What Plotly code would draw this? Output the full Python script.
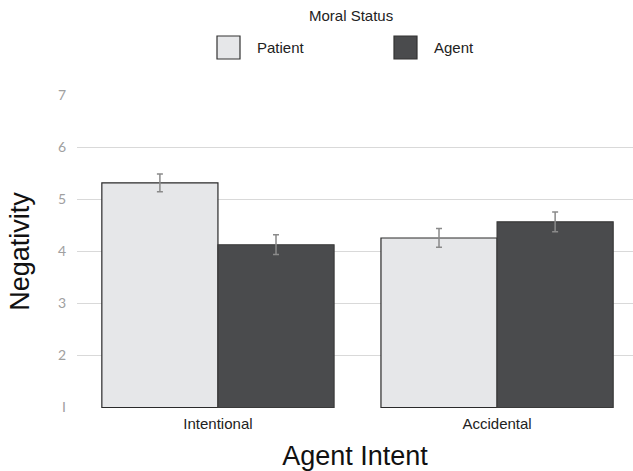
import plotly.graph_objects as go

categories = ["Intentional", "Accidental"]
series_names = ["Patient", "Agent"]
patient_means = [5.32, 4.26]
agent_means = [4.13, 4.57]
patient_err = [0.17, 0.18]
agent_err = [0.19, 0.19]
y_ticks = [1, 2, 3, 4, 5, 6, 7]
y_tick_labels = ["I", "2", "3", "4", "5", "6", "7"]
legend_title = "Moral Status"
baseline = 1

fills = ["#e6e7e9", "#4a4b4d"]
outlines = ["#2a2a2a", "#3a3a3a"]

W, H = 633, 471
L, R, T, B = 77, 0, 95, 63
pw, ph = W - L - R, H - T - B


def px_x(p):
    return (p - L) / pw


def px_y(p):
    return (H - B - p) / ph


fig = go.Figure()
for name, means, errs, fc, lc in zip(series_names, [patient_means, agent_means],
                                     [patient_err, agent_err], fills, outlines):
    fig.add_trace(go.Bar(
        name=name, x=categories, y=[v - baseline for v in means], base=baseline,
        marker=dict(color=fc, line=dict(color=lc, width=1.2)),
        error_y=dict(type="data", array=errs, color="#8a8a8a", thickness=1.5, width=3),
        showlegend=False,
    ))

# manual legend (large swatches as in the reference)
box_left = [217, 394]
text_left = [255, 432]
for name, fc, bx, tx in zip(series_names, fills, box_left, text_left):
    fig.add_shape(type="rect", xref="paper", yref="paper",
                  x0=px_x(bx), x1=px_x(bx + 23), y0=px_y(59), y1=px_y(36),
                  fillcolor=fc, line=dict(color="#333333", width=1.2))
    fig.add_annotation(text=name, xref="paper", yref="paper", x=px_x(tx), y=px_y(48),
                       xanchor="left", yanchor="middle", showarrow=False,
                       font=dict(size=15, color="#222"))
fig.add_annotation(text=legend_title, xref="paper", yref="paper", x=px_x(351), y=px_y(15),
                   xanchor="center", yanchor="middle", showarrow=False,
                   font=dict(size=15, color="#222"))

fig.update_layout(
    width=W, height=H,
    margin=dict(l=L, r=R, t=T, b=B, autoexpand=False),
    paper_bgcolor="white", plot_bgcolor="white",
    barmode="group", bargap=0.168, bargroupgap=0,
    font=dict(family="Liberation Sans, Arial, sans-serif", color="#111"),
    showlegend=False,
    xaxis=dict(
        range=[-0.505, 1.487], showgrid=False, showline=False, ticks="",
        tickfont=dict(size=15, color="#222"), ticklabelstandoff=5,
        title=dict(text="Agent Intent", font=dict(size=27, color="#111"), standoff=16),
    ),
    yaxis=dict(
        range=[0.99, 7.01], tickvals=y_ticks, ticktext=y_tick_labels,
        showgrid=True, gridcolor="#d9d9d9", gridwidth=1, zeroline=False, showline=False,
        tickfont=dict(size=14, family="Lato, sans-serif", color="#a0a0a0"),
        ticks="", ticklabelstandoff=10,
        title=dict(text="Negativity", font=dict(size=27, color="#111"), standoff=20),
    ),
)

fig.write_html("out.html", config={"displayModeBar": False},
               post_script="document.body.style.margin='0';")
